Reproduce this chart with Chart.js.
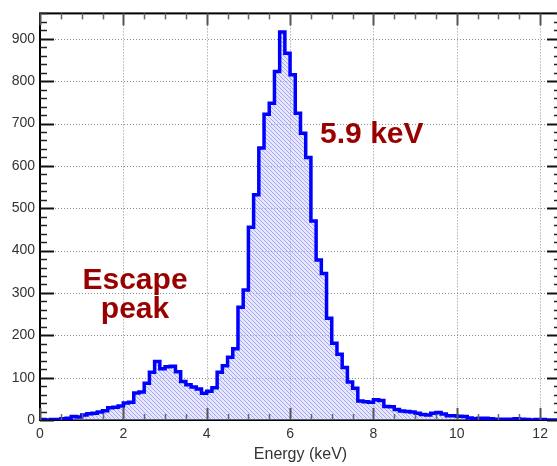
<!DOCTYPE html>
<html><head><meta charset="utf-8">
<script src="https://cdn.jsdelivr.net/npm/chart.js@4.4.1/dist/chart.umd.min.js"></script>
<style>
html,body{margin:0;padding:0;overflow:hidden;background:#fff;width:557px;height:466px;}
#wrap{position:relative;width:570px;height:466px;}
</style></head><body>
<div id="wrap"><canvas id="c" width="570" height="466"></canvas></div>
<script>
// ---- data ----
const binStart = 0;        // keV
const binWidth = 0.125;    // keV
const counts = [
  1, 0, 1, 1, 3, 4, 8, 7, 12, 15,
  16, 19, 22, 29, 30, 33, 40, 42, 64, 66,
  87, 113, 138, 121, 126, 127, 114, 91, 83, 78,
  73, 63, 68, 76, 113, 128, 148, 168, 266, 307,
  455, 532, 642, 722, 748, 823, 916, 866, 815, 724,
  677, 620, 470, 378, 346, 240, 181, 155, 124, 90,
  75, 45, 43, 42, 48, 46, 32, 31, 25, 21,
  20, 19, 16, 13, 12, 16, 18, 14, 10, 10,
  9, 8, 5, 3, 4, 4, 3, 2, 2, 2,
  2, 3, 2, 1, 0, 1, 1, 0, 0, 0
];
const xTickValues = [0, 2, 4, 6, 8, 10, 12];
const yTickValues = [0, 100, 200, 300, 400, 500, 600, 700, 800, 900];
const xTitle = 'Energy (keV)';
const notes = [
  {text: '5.9 keV', x: 6.72, y: 654, align: 'left'},
  {text: 'Escape', x: 2.28, y: 310, align: 'center'},
  {text: 'peak', x: 2.28, y: 240, align: 'center'}
];

// ---- build ----
const points = counts.map((v, i) => ({x: binStart + i * binWidth, y: v}));
points.push({x: binStart + counts.length * binWidth, y: counts[counts.length - 1]});

function hatch() {
  const c = document.createElement('canvas');
  c.width = 4; c.height = 4;
  const g = c.getContext('2d');
  g.fillStyle = 'rgba(200,200,250,0.45)';
  g.fillRect(0, 0, 4, 4);
  g.strokeStyle = 'rgba(90,90,240,0.45)';
  g.lineWidth = 1;
  g.beginPath(); g.moveTo(-1, -1); g.lineTo(5, 5); g.stroke();
  return g.createPattern(c, 'repeat');
}

const FONT = '"Liberation Sans", Arial, Helvetica, sans-serif';

const framePlugin = {
  id: 'frame',
  beforeDatasetsDraw(chart) {
    const {ctx, chartArea: a, scales: {x, y}} = chart;
    ctx.save();
    ctx.strokeStyle = '#8c8c8c';
    ctx.lineWidth = 1;
    ctx.setLineDash([1, 2]);
    xTickValues.forEach(v => {
      if (v <= x.min || v >= x.max) return;
      const px = Math.round(x.getPixelForValue(v)) + 0.5;
      ctx.beginPath(); ctx.moveTo(px, a.top); ctx.lineTo(px, a.bottom); ctx.stroke();
    });
    yTickValues.forEach(v => {
      if (v <= y.min || v >= y.max) return;
      const py = Math.round(y.getPixelForValue(v)) + 0.5;
      ctx.beginPath(); ctx.moveTo(a.left, py); ctx.lineTo(a.right, py); ctx.stroke();
    });
    ctx.setLineDash([]);
    ctx.strokeStyle = '#000';
    ctx.lineWidth = 2;
    ctx.strokeRect(a.left, a.top, a.right - a.left, a.bottom - a.top);
    ctx.restore();
  },
  afterDatasetsDraw(chart) {
    const {ctx, chartArea: a, scales: {x, y}} = chart;
    ctx.save();
    for (let v = 0; v <= y.max + 1e-6; v += 20) {
      const major = Math.abs(v % 100) < 1e-6;
      const py = Math.round(y.getPixelForValue(v)) + 0.5;
      const len = major ? 14 : 7;
      ctx.strokeStyle = major ? '#111' : '#222';
      ctx.lineWidth = major ? 2 : 1.5;
      ctx.beginPath(); ctx.moveTo(a.left, py); ctx.lineTo(a.left + len, py); ctx.stroke();
      ctx.beginPath(); ctx.moveTo(a.right, py); ctx.lineTo(a.right - len, py); ctx.stroke();
    }
    for (let v = 0; v <= x.max + 1e-6; v += 0.5) {
      const major = Math.abs(v % 2) < 1e-6;
      const px = Math.round(x.getPixelForValue(v)) + 0.5;
      const len = major ? 12 : 6;
      ctx.strokeStyle = major ? '#555' : '#666';
      ctx.lineWidth = major ? 2 : 1.5;
      ctx.beginPath(); ctx.moveTo(px, a.bottom); ctx.lineTo(px, a.bottom - len); ctx.stroke();
      ctx.beginPath(); ctx.moveTo(px, a.top); ctx.lineTo(px, a.top + len); ctx.stroke();
    }
    ctx.fillStyle = '#990000';
    ctx.font = 'bold 30px ' + FONT;
    ctx.textBaseline = 'alphabetic';
    notes.forEach(n => {
      ctx.textAlign = n.align;
      ctx.fillText(n.text, x.getPixelForValue(n.x), y.getPixelForValue(n.y));
    });
    ctx.restore();
  }
};

new Chart(document.getElementById('c'), {
  type: 'line',
  data: {
    datasets: [{
      data: points,
      stepped: true,
      borderColor: '#0000ff',
      borderWidth: 3.5,
      borderJoinStyle: 'miter',
      backgroundColor: hatch(),
      fill: 'origin',
      pointRadius: 0,
      tension: 0
    }]
  },
  options: {
    responsive: false,
    animation: false,
    devicePixelRatio: 1,
    layout: {padding: {top: 13, left: 0, right: 9, bottom: 0}},
    plugins: {legend: {display: false}, tooltip: {enabled: false}},
    scales: {
      x: {
        type: 'linear',
        min: 0, max: 12.5,
        afterBuildTicks: s => { s.ticks = xTickValues.map(v => ({value: v})); },
        afterFit: s => { s.height = 46; },
        grid: {display: false, drawTicks: false},
        border: {display: false},
        ticks: {color: '#333', font: {size: 14, family: FONT}, padding: 6, maxRotation: 0, autoSkip: false},
        title: {display: true, text: xTitle, color: '#333', font: {size: 16, family: FONT}, padding: {top: 0, bottom: 2}}
      },
      y: {
        type: 'linear',
        min: 0, max: 960,
        afterBuildTicks: s => { s.ticks = yTickValues.map(v => ({value: v})); },
        afterFit: s => { s.width = 40; },
        grid: {display: false, drawTicks: false},
        border: {display: false},
        ticks: {color: '#333', font: {size: 14, family: FONT}, padding: 5, autoSkip: false}
      }
    }
  },
  plugins: [framePlugin]
});
</script>
</body></html>
